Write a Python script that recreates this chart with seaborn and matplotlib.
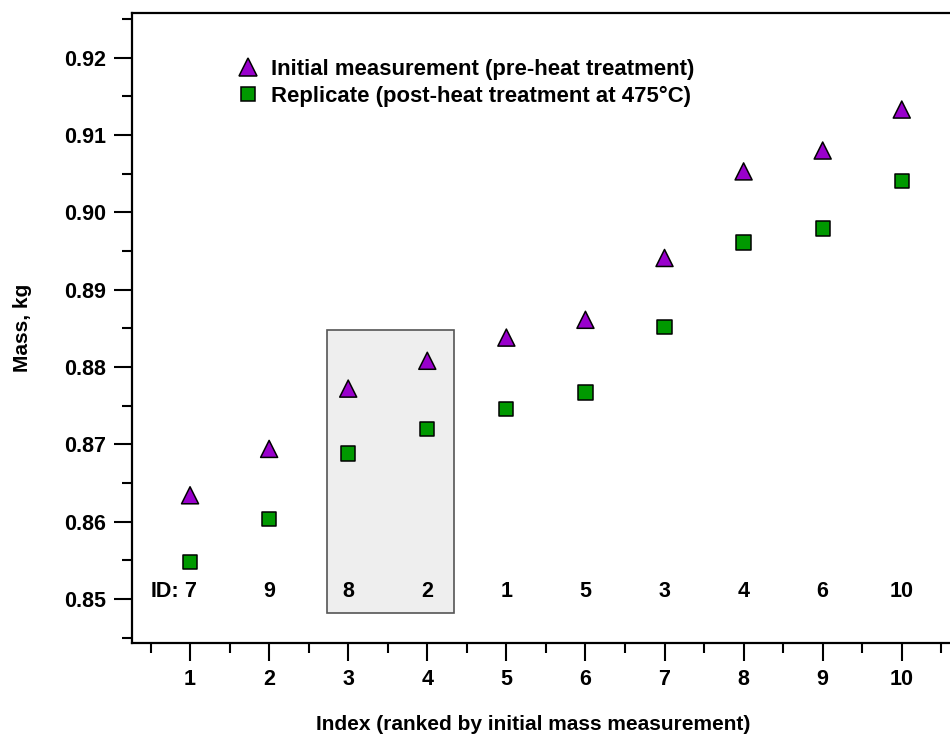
import matplotlib
matplotlib.use("Agg")
import matplotlib.pyplot as plt
from matplotlib.patches import Rectangle
from matplotlib.ticker import MultipleLocator, FormatStrFormatter
import seaborn as sns
import pandas as pd

# Ranked sample index and the sample ID at each rank
index = [1, 2, 3, 4, 5, 6, 7, 8, 9, 10]
sample_ids = ["7", "9", "8", "2", "1", "5", "3", "4", "6", "10"]

# Mass (kg) before and after the heat treatment
initial_mass = [0.8634, 0.8694, 0.8772, 0.8808, 0.8838, 0.8861, 0.8941, 0.9053, 0.9080, 0.9133]
replicate_mass = [0.8548, 0.8603, 0.8688, 0.8720, 0.8746, 0.8767, 0.8852, 0.8961, 0.8979, 0.9041]

series_labels = ["Initial measurement (pre-heat treatment)",
                 "Replicate (post-heat treatment at 475°C)"]

df = pd.DataFrame({
    "index": index * 2,
    "mass": initial_mass + replicate_mass,
    "series": [series_labels[0]] * len(index) + [series_labels[1]] * len(index),
})

sns.set_theme(style="ticks")
plt.rcParams["font.family"] = ["Liberation Sans", "DejaVu Sans"]
plt.rcParams["font.weight"] = "bold"
plt.rcParams["text.color"] = "black"
plt.rcParams["axes.labelcolor"] = "black"
plt.rcParams["xtick.color"] = "black"
plt.rcParams["ytick.color"] = "black"

fig = plt.figure(figsize=(9.5, 7.39), dpi=100)
ax = fig.add_axes([0.139, 0.130, 0.861, 0.8525])

# Highlighted group (samples 8 and 2)
ax.add_patch(Rectangle((2.73, 0.8482), 1.61, 0.0366, facecolor="#eeeeee",
                       edgecolor="#555555", linewidth=1.2, zorder=0))

sns.scatterplot(data=df, x="index", y="mass", hue="series", style="series",
                markers={series_labels[0]: "^", series_labels[1]: "s"},
                palette={series_labels[0]: "#9900cc", series_labels[1]: "#009900"},
                size="series", sizes={series_labels[0]: 150, series_labels[1]: 105},
                edgecolor="black", linewidth=1.1, ax=ax, zorder=3, legend=False)

ax.set_xlim(0.2666, 10.61)
ax.set_ylim(0.8443, 0.9258)

ax.xaxis.set_major_locator(MultipleLocator(1))
ax.xaxis.set_minor_locator(MultipleLocator(0.5))
ax.yaxis.set_major_locator(MultipleLocator(0.01))
ax.yaxis.set_minor_locator(MultipleLocator(0.005))
ax.yaxis.set_major_formatter(FormatStrFormatter("%.2f"))

ax.tick_params(axis="both", which="major", length=13, width=1.5, direction="out",
               labelsize=15.5, pad=6, color="black", labelcolor="black")
ax.tick_params(axis="both", which="minor", length=7, width=1.5, direction="out",
               color="black")
for lbl in ax.get_xticklabels() + ax.get_yticklabels():
    lbl.set_fontweight("bold")

for side in ["left", "bottom", "top"]:
    ax.spines[side].set_linewidth(1.6)
    ax.spines[side].set_color("black")
ax.spines["right"].set_visible(False)

ax.set_xlabel("Index (ranked by initial mass measurement)", fontsize=15, fontweight="bold")
ax.set_ylabel("Mass, kg", fontsize=15, fontweight="bold")
ax.xaxis.set_label_coords(0.490, -0.115)
ax.yaxis.set_label_coords(-0.122, 0.5)

# Sample ID row
id_y = 0.8510
for xi, sid in zip(index, sample_ids):
    ax.text(xi, id_y, sid, ha="center", va="center", fontsize=15.5, fontweight="bold", zorder=4)
ax.text(0.86, id_y, "ID:", ha="right", va="center", fontsize=15.5, fontweight="bold", zorder=4)

# Legend
handles = [
    plt.Line2D([], [], marker="^", linestyle="none", markersize=12.5,
               markerfacecolor="#9900cc", markeredgecolor="black", markeredgewidth=1.1),
    plt.Line2D([], [], marker="s", linestyle="none", markersize=10.5,
               markerfacecolor="#009900", markeredgecolor="black", markeredgewidth=1.1),
]
leg = ax.legend(handles, series_labels, loc="upper left", bbox_to_anchor=(0.108, 0.952),
                frameon=False, prop={"size": 15.9, "weight": "bold"},
                handletextpad=0.5, labelspacing=0.28, handlelength=1.1, borderpad=0.2)

fig.savefig("out.png", dpi=100)
